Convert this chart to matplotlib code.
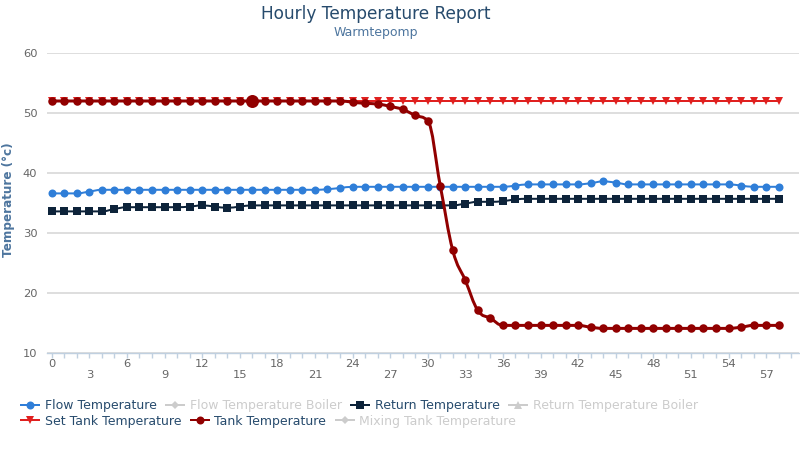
#!/usr/bin/env python3

import numpy as np
import matplotlib.pyplot as plt
from matplotlib.path import Path
from matplotlib.patches import PathPatch
from matplotlib.lines import Line2D

# hours on the x axis
hours = list(range(59))

flow_temp = [36.6, 36.6, 36.6, 36.9, 37.2, 37.2, 37.2, 37.2, 37.2, 37.2,
             37.2, 37.2, 37.2, 37.2, 37.2, 37.2, 37.2, 37.2, 37.2, 37.2,
             37.2, 37.2, 37.3, 37.5, 37.7, 37.7, 37.7, 37.7, 37.7, 37.7,
             37.7, 37.7, 37.7, 37.7, 37.7, 37.7, 37.7, 37.9, 38.1, 38.1,
             38.1, 38.1, 38.1, 38.3, 38.6, 38.4, 38.1, 38.1, 38.1, 38.1,
             38.1, 38.1, 38.1, 38.1, 38.1, 37.9, 37.7, 37.7, 37.7]

return_temp = [33.6, 33.6, 33.6, 33.6, 33.6, 34.0, 34.3, 34.3, 34.3, 34.3,
               34.3, 34.4, 34.6, 34.4, 34.2, 34.4, 34.6, 34.6, 34.6, 34.6,
               34.6, 34.6, 34.6, 34.6, 34.6, 34.6, 34.6, 34.6, 34.6, 34.6,
               34.6, 34.6, 34.6, 34.9, 35.2, 35.2, 35.3, 35.6, 35.7, 35.7,
               35.7, 35.7, 35.7, 35.7, 35.7, 35.7, 35.7, 35.7, 35.7, 35.7,
               35.7, 35.7, 35.7, 35.7, 35.7, 35.7, 35.7, 35.7, 35.7]

set_tank_temp = [52.0] * 59

tank_temp = [52.0, 52.0, 52.0, 52.0, 52.0, 52.0, 52.0, 52.0, 52.0, 52.0,
             52.0, 52.0, 52.0, 52.0, 52.0, 52.0, 52.0, 52.0, 52.0, 52.0,
             52.0, 52.0, 52.0, 52.0, 51.8, 51.6, 51.5, 51.1, 50.6, 49.6,
             48.7, 37.9, 27.1, 22.1, 17.1, 15.8, 14.6, 14.6, 14.6, 14.6,
             14.6, 14.6, 14.6, 14.3, 14.1, 14.1, 14.1, 14.1, 14.1, 14.1,
             14.1, 14.1, 14.1, 14.1, 14.1, 14.3, 14.6, 14.6, 14.6]

hover_index = 16

PX = 72 / 100  # points per pixel


# same smoothing as a highcharts spline series
def spline_path(xs, ys):
    s = 1.5
    n = len(xs)
    right = [None] * n
    verts = [(xs[0], ys[0])]
    codes = [Path.MOVETO]
    for i in range(1, n):
        x, y = xs[i], ys[i]
        lx, ly = x, y
        if i < n - 1:
            px, py = xs[i - 1], ys[i - 1]
            nx, ny = xs[i + 1], ys[i + 1]
            lx = (s * x + px) / (s + 1)
            ly = (s * y + py) / (s + 1)
            rx = (s * x + nx) / (s + 1)
            ry = (s * y + ny) / (s + 1)
            corr = (ry - ly) * (rx - x) / (rx - lx) + y - ry
            ly += corr
            ry += corr
            if ly > py and ly > y:
                ly = max(py, y)
                ry = 2 * y - ly
            elif ly < py and ly < y:
                ly = min(py, y)
                ry = 2 * y - ly
            if ry > ny and ry > y:
                ry = max(ny, y)
                ly = 2 * y - ry
            elif ry < ny and ry < y:
                ry = min(ny, y)
                ly = 2 * y - ry
            right[i] = (rx, ry)
        c1 = right[i - 1] if right[i - 1] else (xs[i - 1], ys[i - 1])
        verts += [c1, (lx, ly), (x, y)]
        codes += [Path.CURVE4] * 3
    return Path(verts, codes)


def draw_series(ax, ys, color, marker, ms, lw, z):
    ax.add_patch(PathPatch(spline_path(hours, ys), fill=False, edgecolor=color,
                           lw=lw, zorder=z, capstyle='round', joinstyle='round'))
    ax.plot(hours, ys, ls='none', marker=marker, ms=ms, color=color,
            mew=0, zorder=z + 0.5)


fig = plt.figure(figsize=(8, 4.51), dpi=100)
ax = fig.add_axes([46.7 / 800, 1 - 353 / 451, 752 / 800, 300 / 451])

blue = '#2f7ed8'
navy = '#0d233a'
red = '#e0201f'
darkred = '#910000'
grey = '#cccccc'

draw_series(ax, flow_temp, blue, 'o', 8 * PX, 2 * PX, 3)
draw_series(ax, return_temp, navy, 's', 7.5 * PX, 2 * PX, 4)
draw_series(ax, set_tank_temp, red, 'v', 8 * PX, 2 * PX, 5)
draw_series(ax, tank_temp, darkred, 'o', 8.5 * PX, 3 * PX, 6)
ax.plot(hours[hover_index], tank_temp[hover_index], 'o', color=darkred,
        ms=13 * PX, mew=0, zorder=7)

ax.set_xlim(-0.4, 59.6)
ax.set_ylim(10, 60)

ax.set_yticks(range(10, 61, 10))
ax.grid(True, axis='y', color='#d8d8d8', lw=1.2)
ax.set_axisbelow(True)
for side in ['left', 'right', 'top']:
    ax.spines[side].set_visible(False)
ax.spines['bottom'].set_color('#c0d0e0')
ax.spines['bottom'].set_linewidth(1)

xlabels = []
for h in range(60):
    if h % 6 == 0:
        xlabels.append(str(h))
    elif h % 3 == 0:
        xlabels.append('\n' + str(h))
    else:
        xlabels.append('')
ax.set_xticks(range(60))
ax.set_xticklabels(xlabels)
ax.tick_params(axis='x', length=5 * PX, width=1, color='#c0d0e0', pad=0.8,
               labelsize=11.5 * PX, labelcolor='#666666')
ax.tick_params(axis='y', length=0, pad=6.8, labelsize=11.5 * PX, labelcolor='#666666')
for lab in ax.get_xticklabels():
    lab.set_linespacing(1.12)

fig.text(376 / 800, 1 - 19.3 / 451, 'Hourly Temperature Report', ha='center',
         va='baseline', fontsize=17 * PX, color='#274b6d')
fig.text(376 / 800, 1 - 36 / 451, 'Warmtepomp', ha='center', va='baseline',
         fontsize=12.5 * PX, color='#4d759e')
fig.text(9 / 800, 1 - 200 / 451, 'Temperature (°c)', rotation=90, ha='center',
         va='center', fontsize=12 * PX, color='#4d759e', fontweight='bold')

# legend, two rows like the original
row1 = [('Flow Temperature', blue, 'o', 8, True),
        ('Flow Temperature Boiler', grey, 'D', 6, False),
        ('Return Temperature', navy, 's', 7.5, True),
        ('Return Temperature Boiler', grey, '^', 8, False)]
row2 = [('Set Tank Temperature', red, 'v', 8, True),
        ('Tank Temperature', darkred, 'o', 8, True),
        ('Mixing Tank Temperature', grey, 'D', 6, False)]

text_dark = '#274b6d'
for row, ypix in [(row1, 406), (row2, 421)]:
    handles = [Line2D([], [], color=c, marker=m, ms=s * PX, mew=0, lw=2 * PX)
               for _, c, m, s, _ in row]
    labels = [r[0] for r in row]
    leg = fig.legend(handles, labels, loc='center left',
                     bbox_to_anchor=(21 / 800, 1 - ypix / 451), ncol=len(row),
                     frameon=False, borderpad=0, borderaxespad=0,
                     handlelength=1.45, handletextpad=0.45, columnspacing=0.75,
                     prop={'size': 12.5 * PX})
    for t, r in zip(leg.get_texts(), row):
        t.set_color(text_dark if r[4] else grey)

fig.savefig('out.png', dpi=100)
